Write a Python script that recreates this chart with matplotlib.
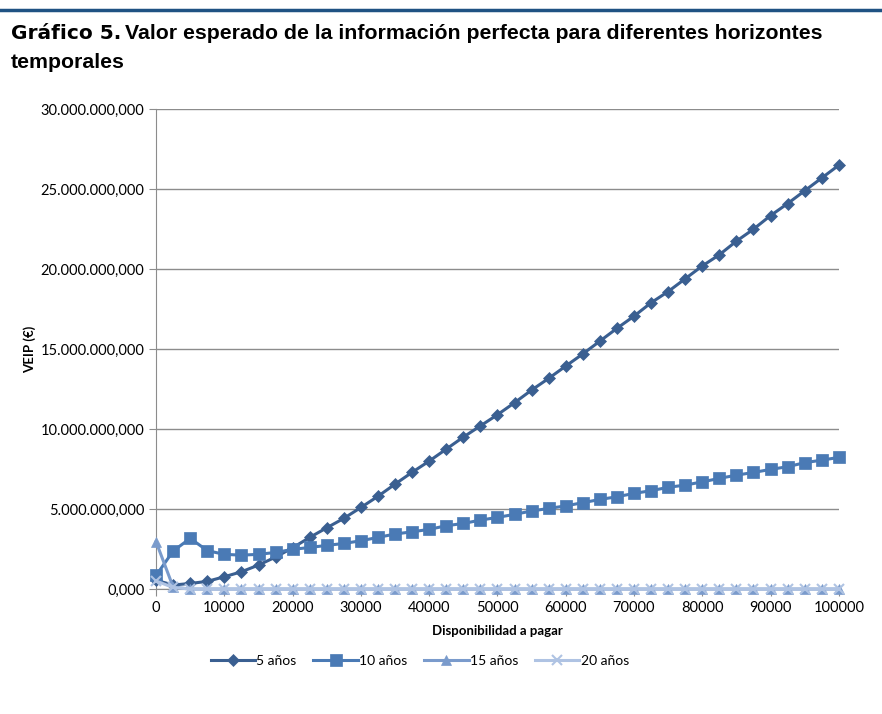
import matplotlib
matplotlib.use("Agg")
from matplotlib import pyplot as plt
from matplotlib.ticker import FuncFormatter, MultipleLocator

# disponibilidad a pagar (EUR), cada 2500
x = list(range(0, 100001, 2500))

# VEIP en millones de euros
veip_5 = [0.55, 0.25, 0.35, 0.48, 0.77, 1.08, 1.50, 2.00, 2.58, 3.23,
          3.83, 4.42, 5.10, 5.80, 6.56, 7.30, 8.00, 8.75, 9.50, 10.20,
          10.90, 11.65, 12.44, 13.17, 13.94, 14.70, 15.50, 16.30, 17.06, 17.90,
          18.60, 19.40, 20.20, 20.90, 21.75, 22.50, 23.35, 24.10, 24.90, 25.70,
          26.50]
veip_10 = [0.85, 2.38, 3.17, 2.40, 2.17, 2.12, 2.17, 2.29, 2.48, 2.60,
           2.73, 2.85, 3.02, 3.23, 3.44, 3.58, 3.73, 3.96, 4.10, 4.31,
           4.48, 4.67, 4.88, 5.04, 5.20, 5.40, 5.60, 5.77, 5.98, 6.15,
           6.36, 6.50, 6.70, 6.92, 7.12, 7.29, 7.48, 7.65, 7.90, 8.06,
           8.23]
veip_15 = [2.95, 0.12] + [0.0] * 39
veip_20 = [0.50, 0.10] + [0.0] * 39

series = [
    ("5 años", veip_5, "#3A5F91", "D", 6),
    ("10 años", veip_10, "#4A7AB5", "s", 8),
    ("15 años", veip_15, "#7A9BCC", "^", 7),
    ("20 años", veip_20, "#AFC3E3", "x", 7),
]

plt.rcParams['font.family'] = ['Lato', 'DejaVu Sans']

fig = plt.figure(figsize=(8.82, 7.14), dpi=100)
ax = fig.add_axes([0.177, 0.175, 0.774, 0.672])

for label, vals, color, marker, ms in series:
    ys = [v * 1e6 for v in vals]
    ax.plot(x, ys, color=color, lw=2.2, marker=marker, markersize=ms,
            markeredgewidth=1.5 if marker == "x" else 0.5,
            markeredgecolor=color, label=label, clip_on=False, zorder=3)

ax.set_xlim(0, 100000)
ax.set_ylim(0, 30e6)
ax.xaxis.set_major_locator(MultipleLocator(10000))
ax.yaxis.set_major_locator(MultipleLocator(5e6))

def fmt_es(v, pos):
    s = f"{v:,.3f}"
    return s.replace(",", "_").replace(".", ",").replace("_", ".")

ax.yaxis.set_major_formatter(FuncFormatter(fmt_es))
ax.xaxis.set_major_formatter(FuncFormatter(lambda v, p: f"{int(v)}"))

ax.grid(axis="y", color="#8C8C8C", lw=1)
ax.set_axisbelow(True)
for side in ["top", "right"]:
    ax.spines[side].set_visible(False)
for side in ["left", "bottom"]:
    ax.spines[side].set_color("#8C8C8C")
ax.tick_params(axis="both", colors="#8C8C8C", labelcolor="black",
               labelsize=10.5, length=5)

ax.set_xlabel("Disponibilidad a pagar", fontsize=9.5, fontweight="bold", labelpad=7)
ax.set_ylabel("VEIP (€)", fontsize=9.5, fontweight="bold", labelpad=3)

fig.legend(loc="center", bbox_to_anchor=(0.476, 0.074), ncol=4, frameon=False,
           fontsize=10, handlelength=3.2, handletextpad=0.1, columnspacing=1.2)

# banda superior y título
fig.add_artist(plt.Line2D([0, 1], [0.986, 0.986], color="#1F5283", lw=2.5,
                          transform=fig.transFigure))
t1 = fig.text(0.012, 0.953, "Gráfico 5.", fontsize=14.5, fontweight="heavy",
              family="DejaVu Sans", va="center")
fig.canvas.draw()
bb = t1.get_window_extent()
fig.text(bb.x1 / fig.bbox.width + 0.005, 0.953,
         "Valor esperado de la información perfecta para diferentes horizontes",
         fontsize=15.3, fontweight="bold", family="Liberation Sans", va="center")
fig.text(0.012, 0.912, "temporales", fontsize=15.3, fontweight="bold",
         family="Liberation Sans", va="center")

fig.savefig("out.png", dpi=100)
